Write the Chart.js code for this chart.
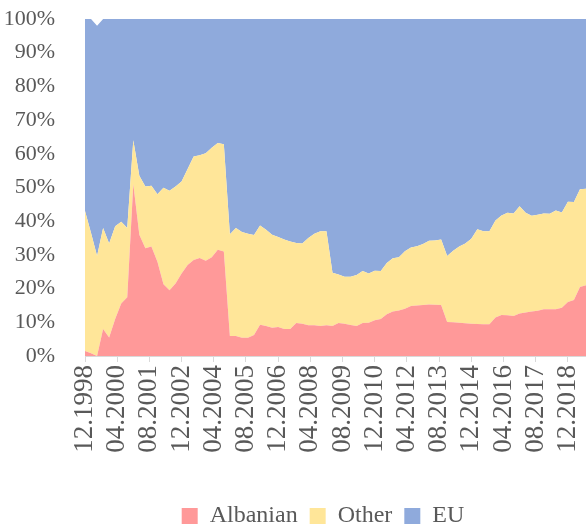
<!DOCTYPE html>
<html>
<head>
<meta charset="utf-8">
<script src="https://cdn.jsdelivr.net/npm/chart.js@4.4.1/dist/chart.umd.min.js"></script>
<style>
  html, body { margin: 0; padding: 0; background: #fff; }
</style>
</head>
<body>
<canvas id="myChart" width="586" height="529"></canvas>
<script>
// quarterly observations, MM.YYYY
const dates = [
    '12.1998',
    '03.1999', '06.1999', '09.1999', '12.1999',
    '03.2000', '06.2000', '09.2000', '12.2000',
    '03.2001', '06.2001', '09.2001', '12.2001',
    '03.2002', '06.2002', '09.2002', '12.2002',
    '03.2003', '06.2003', '09.2003', '12.2003',
    '03.2004', '06.2004', '09.2004', '12.2004',
    '03.2005', '06.2005', '09.2005', '12.2005',
    '03.2006', '06.2006', '09.2006', '12.2006',
    '03.2007', '06.2007', '09.2007', '12.2007',
    '03.2008', '06.2008', '09.2008', '12.2008',
    '03.2009', '06.2009', '09.2009', '12.2009',
    '03.2010', '06.2010', '09.2010', '12.2010',
    '03.2011', '06.2011', '09.2011', '12.2011',
    '03.2012', '06.2012', '09.2012', '12.2012',
    '03.2013', '06.2013', '09.2013', '12.2013',
    '03.2014', '06.2014', '09.2014', '12.2014',
    '03.2015', '06.2015', '09.2015', '12.2015',
    '03.2016', '06.2016', '09.2016', '12.2016',
    '03.2017', '06.2017', '09.2017', '12.2017',
    '03.2018', '06.2018', '09.2018', '12.2018',
    '03.2019', '06.2019', '09.2019'
];

// shares in %
const albanian = [
    1.5, 0.8, 0, 8, 5.5, 11, 15.6, 17.4, 51, 36, 32, 32.5,
    28, 21.3, 19.5, 21.5, 24.5, 27, 28.5, 29.1, 28.3, 29.3, 31.5, 31,
    5.9, 5.9, 5.4, 5.4, 6.2, 9.3, 8.9, 8.4, 8.6, 8, 8, 9.8,
    9.6, 9.1, 9.1, 8.9, 9.1, 8.9, 9.8, 9.6, 9.2, 8.9, 9.8, 9.9,
    10.6, 11, 12.4, 13.2, 13.5, 14, 14.8, 15, 15.1, 15.3, 15.2, 15.1,
    10.1, 10, 9.9, 9.7, 9.6, 9.5, 9.4, 9.4, 11.4, 12.2, 12.1, 11.9,
    12.6, 12.9, 13.2, 13.4, 13.9, 13.9, 13.9, 14.3, 16, 16.6, 20.5, 21
];
const other = [
    41.5, 35.7, 29.7, 30, 27.9, 27.5, 24.2, 20.6, 13, 17.5, 18.3, 18,
    20, 28.6, 29.5, 28.8, 27.3, 28.5, 30.7, 30.5, 31.9, 32.5, 31.7, 31.8,
    30.2, 32.1, 31.4, 30.9, 29.7, 29.4, 28.6, 27.6, 26.7, 26.6, 26, 23.7,
    23.8, 25.9, 27.2, 28.1, 27.9, 15.8, 14.4, 13.9, 14.3, 15.1, 15.4, 14.6,
    14.7, 14.2, 15.2, 15.8, 15.8, 17.1, 17.4, 17.6, 18.1, 18.9, 19.1, 19.5,
    19.6, 21.2, 22.6, 23.7, 25.2, 28.1, 27.6, 27.6, 28.8, 29.5, 30.4, 30.4,
    31.8, 29.6, 28.4, 28.5, 28.4, 28.3, 29.3, 28.3, 29.8, 29.1, 29, 28.6
];
const eu = [
    57, 63.5, 68.3, 62, 66.6, 61.5, 60.2, 62, 36, 46.5, 49.7, 49.5,
    52, 50.1, 51, 49.7, 48.2, 44.5, 40.8, 40.4, 39.8, 38.2, 36.8, 37.2,
    63.9, 62, 63.2, 63.7, 64.1, 61.3, 62.5, 64, 64.7, 65.4, 66, 66.5,
    66.6, 65, 63.7, 63, 63, 75.3, 75.8, 76.5, 76.5, 76, 74.8, 75.5,
    74.7, 74.8, 72.4, 71, 70.7, 68.9, 67.8, 67.4, 66.8, 65.8, 65.7, 65.4,
    70.3, 68.8, 67.5, 66.6, 65.2, 62.4, 63, 63, 59.8, 58.3, 57.5, 57.7,
    55.6, 57.5, 58.4, 58.1, 57.7, 57.8, 56.8, 57.4, 54.2, 54.3, 50.5, 50.4
];

const tickLabels = [
    '12.1998', '04.2000', '08.2001', '12.2002', '04.2004', '08.2005',
    '12.2006', '04.2008', '08.2009', '12.2010', '04.2012', '08.2013',
    '12.2014', '04.2016', '08.2017', '12.2018'
];

// months since 12.1998
function toMonth(s) {
    const [mm, yyyy] = s.split('.').map(Number);
    return (yyyy - 1998) * 12 + (mm - 12);
}
function fromMonth(m) {
    const total = 1998 * 12 + 11 + m;
    const y = Math.floor(total / 12);
    const mm = total % 12 + 1;
    return String(mm).padStart(2, '0') + '.' + y;
}

const xs = dates.map(toMonth);
const pts = arr => arr.map((v, i) => ({ x: xs[i], y: v }));

const FONT = 'Liberation Serif, Times New Roman, serif';
const GREY = '#595959';

Chart.defaults.font.family = FONT;
Chart.defaults.font.size = 22;
Chart.defaults.color = GREY;

// legend sits centred under the plot area, not the whole canvas
const shiftLegend = {
    id: 'shiftLegend',
    afterLayout(chart) {
        chart.legend.left = chart.chartArea.left - 25;
    }
};

const ctx = document.getElementById('myChart').getContext('2d');
const myChart = new Chart(ctx, {
    type: 'line',
    data: {
        datasets: [{
            label: 'Albanian',
            data: pts(albanian),
            backgroundColor: '#FF9999',
            borderWidth: 0,
            fill: 'origin'
        }, {
            label: 'Other',
            data: pts(other),
            backgroundColor: '#FFE699',
            borderWidth: 0,
            fill: '-1'
        }, {
            label: 'EU',
            data: pts(eu),
            backgroundColor: '#8FAADC',
            borderWidth: 0,
            fill: '-1'
        }]
    },
    plugins: [shiftLegend],
    options: {
        responsive: false,
        animation: false,
        devicePixelRatio: 1,
        elements: { point: { radius: 0 }, line: { tension: 0 } },
        layout: { padding: { top: 19, right: 0, left: 0, bottom: -9 } },
        plugins: {
            legend: {
                position: 'bottom',
                labels: { boxWidth: 16, boxHeight: 16, padding: 12, color: GREY, font: { size: 24 } }
            },
            tooltip: { enabled: false }
        },
        scales: {
            x: {
                type: 'linear',
                min: 0,
                max: xs[xs.length - 1],
                afterBuildTicks: scale => {
                    scale.ticks = tickLabels.map(t => ({ value: toMonth(t) }));
                },
                afterFit: scale => {
                    scale.height = 136;
                    scale.paddingLeft = 0;
                    scale.paddingRight = 0;
                },
                ticks: {
                    autoSkip: false,
                    maxRotation: 90,
                    minRotation: 90,
                    padding: 3,
                    font: { size: 27 },
                    callback: v => fromMonth(v)
                },
                grid: { drawOnChartArea: false, drawTicks: true, tickLength: 6, color: '#D9D9D9' },
                border: { color: '#D9D9D9', width: 1 }
            },
            y: {
                stacked: true,
                min: 0,
                max: 100,
                afterFit: scale => {
                    scale.width = 85;
                    scale.paddingTop = 0;
                    scale.paddingBottom = 0;
                },
                ticks: {
                    stepSize: 10,
                    padding: 22,
                    callback: v => v + '%'
                },
                grid: { display: false },
                border: { display: false }
            }
        }
    }
});
</script>
</body>
</html>
